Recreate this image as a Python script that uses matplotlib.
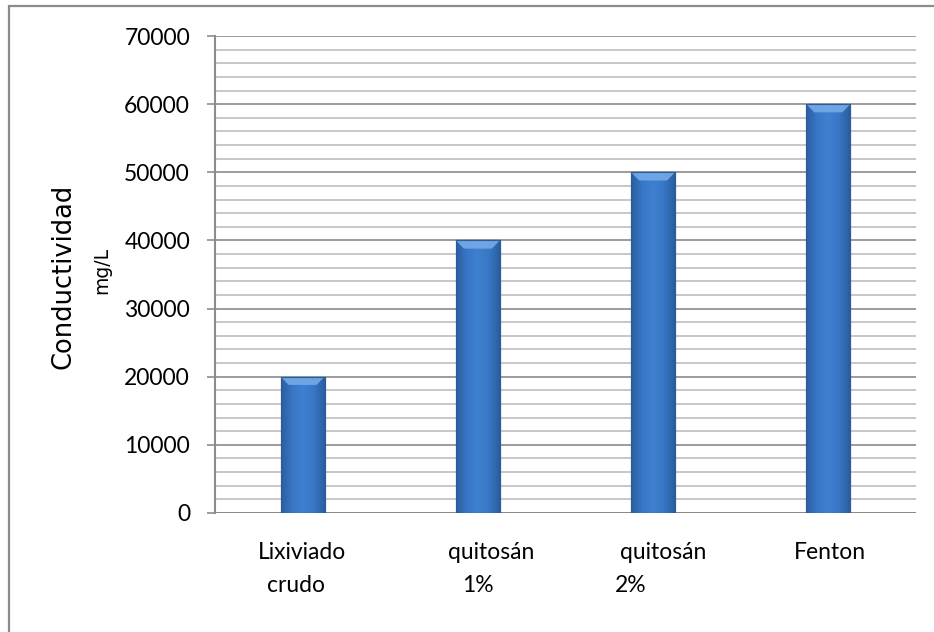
import numpy as np
import matplotlib
matplotlib.use("Agg")
import matplotlib.pyplot as plt
from matplotlib.patches import Rectangle, Polygon
from matplotlib.colors import LinearSegmentedColormap

# conductividad por tratamiento
tratamientos = ["Lixiviado crudo", "quitosán 1%", "quitosán 2%", "Fenton"]
conductividad = [20000, 40000, 50000, 60000]
etiquetas_1 = ["Lixiviado", "quitosán", "quitosán", "Fenton"]
etiquetas_2 = ["crudo", "1%", "2%", ""]
yticks = [0, 10000, 20000, 30000, 40000, 50000, 60000, 70000]

plt.rcParams['font.family'] = ['Lato', 'DejaVu Sans']

fig = plt.figure(figsize=(9.34, 6.32), dpi=100)
ax = fig.add_axes([0.2302, 0.1883, 0.7505, 0.7547])

x = np.arange(len(tratamientos))
ancho = 0.25
barras = ax.bar(x, conductividad, width=ancho, color='#3a78c8',
                edgecolor='#2b5b98', linewidth=0.8, zorder=3)

# relleno degradado de cada barra (bordes algo más oscuros)
grad = LinearSegmentedColormap.from_list(
    'azul', ['#2c5e9f', '#3877c6', '#3f80d0', '#3877c6', '#2c5e9f'])
fila = np.linspace(0, 1, 64).reshape(1, -1)
for b in barras:
    x0, y0 = b.get_x(), b.get_y()
    w, h = b.get_width(), b.get_height()
    im = ax.imshow(fila, cmap=grad, aspect='auto', zorder=3.5,
                   extent=(x0, x0 + w, y0, y0 + h), interpolation='bicubic')
    im.set_clip_path(b)
    # bisel superior claro
    bisel = 1200
    ax.add_patch(Polygon([(x0, y0 + h), (x0 + w, y0 + h),
                          (x0 + w * 0.82, y0 + h - bisel),
                          (x0 + w * 0.18, y0 + h - bisel)],
                         closed=True, facecolor='#76aae8', edgecolor='none',
                         alpha=0.9, zorder=4))
    ax.add_patch(Rectangle((x0, y0), w, h, facecolor='none',
                           edgecolor='#2b5b98', linewidth=0.8, zorder=4))

ax.set_xlim(-0.5, len(tratamientos) - 0.5)
ax.set_ylim(0, 70000)
ax.set_yticks(yticks)
ax.set_yticks(np.arange(0, 70001, 2000), minor=True)
ax.tick_params(axis='y', which='major', length=6, width=1.2, color='#8c8c8c',
               pad=12, labelsize=16.5)
ax.tick_params(axis='y', which='minor', length=0)
ax.tick_params(axis='x', length=0, labelbottom=False)

ax.grid(axis='y', which='major', color='#8a8a8a', linewidth=1.2, zorder=0)
ax.grid(axis='y', which='minor', color='#b8b8b8', linewidth=1.1, zorder=0)
ax.set_axisbelow(True)

for lado in ['top', 'right', 'bottom']:
    ax.spines[lado].set_visible(False)
ax.spines['left'].set_color('#8c8c8c')
ax.spines['left'].set_linewidth(1.5)
ax.axhline(0, color='#8a8a8a', linewidth=1.4, zorder=2)

# etiquetas de categoría en dos líneas
dx1 = [-1, 13.5, 10.5, 1.5]
dx2 = [-6.5, 0, -22.5, 0]
trans = ax.get_xaxis_transform()
for i in range(len(tratamientos)):
    ax.annotate(etiquetas_1[i], xy=(x[i], 0), xycoords=trans,
                xytext=(dx1[i] * 0.72, -33), textcoords='offset points',
                ha='center', va='baseline', fontsize=16.5)
    ax.annotate(etiquetas_2[i], xy=(x[i], 0), xycoords=trans,
                xytext=(dx2[i] * 0.72, -57), textcoords='offset points',
                ha='center', va='baseline', fontsize=16.5)

fig.text(0.0685, 0.5633, "Conductividad", rotation=90, ha='center',
         va='center', fontsize=18.5, family='DejaVu Sans')
fig.text(0.109, 0.5728, "mg/L", rotation=90, ha='center', va='center',
         fontsize=13.5, family='DejaVu Sans')

# marco exterior
fig.patches.append(Rectangle((9 / 934, -0.1), 1.2, 1.1 - 6 / 632,
                             transform=fig.transFigure, facecolor='none',
                             edgecolor='#8c8c8c', linewidth=1.6))

fig.savefig("out.png", dpi=100)
